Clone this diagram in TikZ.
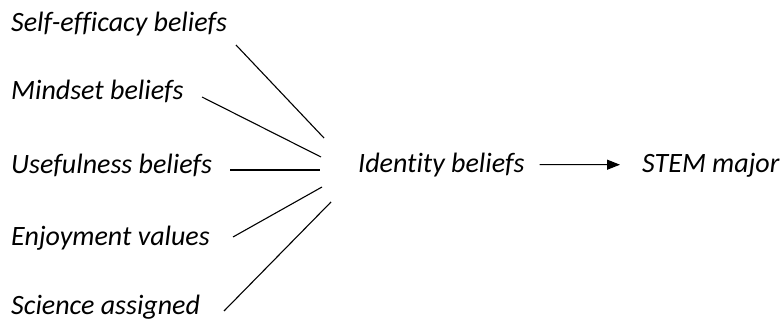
\documentclass[tikz,border=0pt]{standalone}
\usepackage{fontspec}
\setmainfont[Ligatures=NoCommon]{Carlito}
\usetikzlibrary{arrows.meta}
\begin{document}
\begin{tikzpicture}[x=1pt, y=-1pt,
    lbl/.style={anchor=base west, inner sep=0pt, font=\fontsize{28}{32}\selectfont\itshape},
    link/.style={line width=1.1pt},
    arrow/.style={line width=1.1pt, -{Triangle[length=13pt, width=10pt]}}]
    \useasboundingbox (0,0) rectangle (783,323);

    % Predictors
    \node[lbl] (self) at (11,32) {Self-efficacy beliefs};
    \node[lbl] (mind) at (11,100) {Mindset beliefs};
    \node[lbl] (use) at (11,173) {Usefulness beliefs};
    \node[lbl] (enjoy) at (11,245) {Enjoyment values};
    \node[lbl] (sci) at (11,314) {Science assigned};

    % Outcomes
    \node[lbl] (id) at (358,172) {Identity beliefs};
    \node[lbl] (stem) at (642,172) {STEM major};

    % Line ends
    \coordinate (selfa) at (236,45);  \coordinate (selfb) at (324,138);
    \coordinate (minda) at (202,97);  \coordinate (mindb) at (321,157);
    \coordinate (usea) at (230,170);  \coordinate (useb) at (320,170);
    \coordinate (enjoya) at (233,237); \coordinate (enjoyb) at (322,187);
    \coordinate (scia) at (224,311);  \coordinate (scib) at (331,202);

    \draw[link] (selfa) -- (selfb);
    \draw[link] (minda) -- (mindb);
    \draw[link] (usea) -- (useb);
    \draw[link] (enjoya) -- (enjoyb);
    \draw[link] (scia) -- (scib);

    \draw[arrow, shorten <=15pt, shorten >=22pt] (id.east) -- (stem.west);
\end{tikzpicture}
\end{document}
